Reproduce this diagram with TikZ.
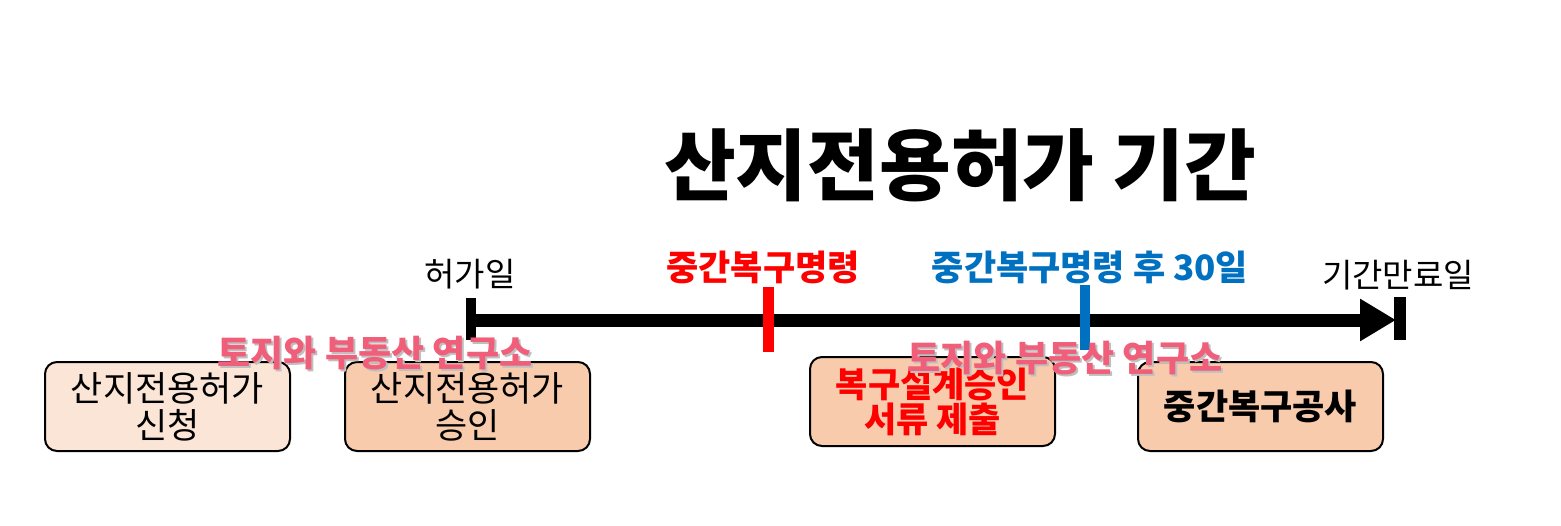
\documentclass[tikz,border=0pt]{standalone}
\usepackage{fontspec}
\setmainfont{Noto Sans CJK KR}
\usepackage{tikz}
\usetikzlibrary{arrows.meta}
\usetikzlibrary{positioning}
\usetikzlibrary{backgrounds}
\definecolor{paleorange}{RGB}{251,229,214}
\definecolor{lightorange}{RGB}{248,203,173}
\definecolor{orderred}{RGB}{255,0,0}
\definecolor{afterblue}{RGB}{0,112,192}
\definecolor{markpink}{RGB}{240,94,122}
\tikzstyle{phase}=[draw, line width=1pt, rounded corners=6pt, align=center,
  minimum width=122.5pt, minimum height=44.5pt, inner sep=0pt,
  font=\fontsize{17.5}{18.5}\selectfont]
\tikzstyle{lightphase} = [phase, fill=paleorange]
\tikzstyle{darkphase} = [phase, fill=lightorange]
\tikzstyle{tick} = [fill, inner sep=0pt, minimum width=5.5pt, minimum height=32.5pt]
\tikzstyle{datelabel} = [font=\fontsize{16.5}{18}\selectfont]
\tikzstyle{orderlabel} = [font=\bfseries\fontsize{17.5}{18}\selectfont]
\tikzstyle{line} = [draw, line width=6.5pt, -{Triangle[length=18pt,width=20pt]}]
\tikzstyle{watermark} = [text=markpink, font=\bfseries\fontsize{18}{18}\selectfont]
\newcommand{\wmark}[3]{node (#1s) [watermark, text=black!25, xshift=1pt, yshift=-1pt] at (#2) {#3}
  node (#1) [watermark] at (#2) {#3}}

\begin{document}
\begin{tikzpicture}[x=0.5pt,y=-0.5pt]
    \useasboundingbox (0,0) rectangle (1561,525);

    % Title
    \node (title) [font=\bfseries\fontsize{39}{42}\selectfont] at (960,165) {산지전용허가 기간};

    % Draw timeline
    \coordinate (tstart) at (466,320);
    \coordinate (tend) at (1396,320);
    \node (t0) [tick, minimum width=5pt, minimum height=21pt] at (471,319) {};
    \node (t1) [tick, fill=orderred] at (768,319.5) {};
    \node (t2) [tick, fill=afterblue, minimum width=5pt] at (1085,317.5) {};
    \node (t3) [tick, minimum width=6pt, minimum height=21.5pt] at (1400,318.5) {};
    \begin{scope}[on background layer]
      \path [line] (tstart) -- (tend);
    \end{scope}

    % Labels on the timeline
    \node (l0) [datelabel] at (470,274) {허가일};
    \node (l1) [orderlabel, text=orderred] at (763,267) {중간복구명령};
    \node (l2) [orderlabel, text=afterblue] at (1090,267) {중간복구명령 후 30일};
    \node (l3) [datelabel] at (1398,275) {기간만료일};

    % Draw diagram elements
    \node (apply) [lightphase] at (167.5,406.5) {산지전용허가\\신청};
    \node (grant) [darkphase, right=26.5pt of apply] {산지전용허가\\승인};
    \node (design) [darkphase, text=orderred, font=\bfseries\fontsize{17.5}{17.5}\selectfont]
      at (932.5,401.5) {복구설계승인\\서류 제출};
    \node (work) [darkphase, font=\bfseries\fontsize{17.5}{18}\selectfont]
      at (1260.5,406.5) {중간복구공사};

    % Watermarks
    \path \wmark{wa}{375,353}{토지와 부동산 연구소};
    \path \wmark{wb}{1065,358}{토지와 부동산 연구소};
\end{tikzpicture}
\end{document}
